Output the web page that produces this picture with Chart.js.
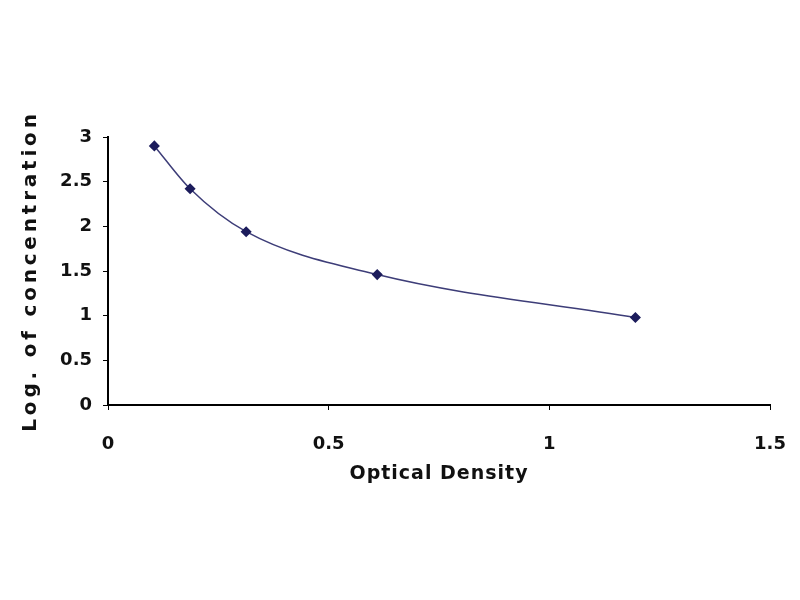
<!DOCTYPE html>
<html>
<head>
<meta charset="utf-8">
<script src="https://cdn.jsdelivr.net/npm/chart.js@4.4.1/dist/chart.umd.min.js"></script>
<style>
  html, body { margin: 0; padding: 0; background: #fff; }
  #wrap { width: 800px; height: 600px; }
</style>
</head>
<body>
<div id="wrap"><canvas id="myChart" width="800" height="600"></canvas></div>
<script>
const opticalDensity = [0.105, 0.186, 0.313, 0.61, 1.195];
const logConcentration = [2.9, 2.42, 1.94, 1.46, 0.98];
const xTicks = [0, 0.5, 1, 1.5];
const yTicks = [0, 0.5, 1, 1.5, 2, 2.5, 3];

const points = opticalDensity.map((x, i) => ({ x: x, y: logConcentration[i] }));

const ctx = document.getElementById('myChart').getContext('2d');

const tickFont = { family: 'DejaVu Sans, sans-serif', size: 18, weight: 'bold' };
const xTitleFont = { family: 'DejaVu Sans, sans-serif', size: 19, weight: 'bold' };
const yTitleFont = { family: 'DejaVu Sans, sans-serif', size: 20, weight: 'bold' };

// the original axis titles are drawn with wide letter spacing
function spacedTitle(scale, spacing) {
    if (scale._spacedTitle) return;
    const orig = scale.drawTitle.bind(scale);
    scale.drawTitle = function () {
        const c = scale.ctx;
        c.save();
        c.letterSpacing = spacing;
        orig();
        c.restore();
    };
    scale._spacedTitle = true;
}

const myChart = new Chart(ctx, {
    type: 'scatter',
    data: {
        datasets: [{
            label: 'Standard curve',
            data: points,
            showLine: true,
            cubicInterpolationMode: 'monotone',
            borderColor: '#3d3d78',
            borderWidth: 1.5,
            pointStyle: 'rectRot',
            pointRadius: 4.5,
            pointBackgroundColor: '#1c1c5c',
            pointBorderColor: '#1c1c5c'
        }]
    },
    options: {
        responsive: false,
        animation: false,
        layout: { padding: { top: 137, right: 30, bottom: 111, left: 0 } },
        plugins: {
            legend: { display: false },
            tooltip: { enabled: false }
        },
        scales: {
            x: {
                type: 'linear',
                min: 0,
                max: 1.5,
                afterBuildTicks: function (scale) {
                    scale.ticks = xTicks.map(v => ({ value: v }));
                },
                afterFit: function (scale) {
                    scale.height = 84;
                    scale.paddingLeft = 0;
                    scale.paddingRight = 0;
                    spacedTitle(scale, '1px');
                },
                border: { color: '#000', width: 2 },
                grid: { drawOnChartArea: false, color: '#000', tickLength: 5 },
                ticks: {
                    color: '#111',
                    font: tickFont,
                    padding: 24,
                    maxRotation: 0,
                    callback: v => String(v)
                },
                title: {
                    display: true,
                    text: 'Optical Density',
                    color: '#111',
                    font: xTitleFont,
                    padding: { top: 4 }
                }
            },
            y: {
                type: 'linear',
                min: 0,
                max: 3,
                afterBuildTicks: function (scale) {
                    scale.ticks = yTicks.map(v => ({ value: v }));
                },
                afterFit: function (scale) {
                    scale.width = 108;
                    spacedTitle(scale, '3.8px');
                },
                border: { color: '#000', width: 2 },
                grid: { drawOnChartArea: false, color: '#000', tickLength: 5 },
                ticks: {
                    color: '#111',
                    font: tickFont,
                    padding: 11,
                    callback: v => String(v)
                },
                title: {
                    display: true,
                    text: 'Log. of concentration',
                    color: '#111',
                    font: yTitleFont,
                    padding: { top: 19 }
                }
            }
        }
    }
});
</script>
</body>
</html>
